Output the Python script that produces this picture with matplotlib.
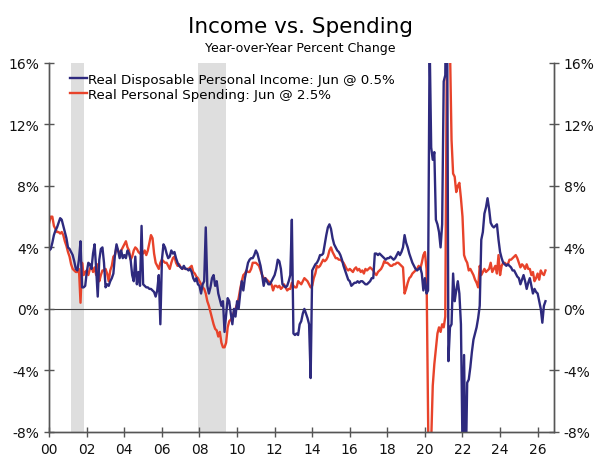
import numpy as np
import matplotlib
matplotlib.use("Agg")
import matplotlib.pyplot as plt

# monthly year-over-year % change, Jan 2000 .. Jun 2026
start_year = 2000
income_yoy = [
    3.8, 3.9, 4.3, 4.8, 5.1, 5.3, 5.6, 5.9, 5.8, 5.4, 5.0, 4.6,   # 2000
    4.0, 3.9, 3.7, 3.5, 3.1, 2.6, 2.5, 3.2, 4.4, 1.4, 1.4, 1.5,   # 2001
    2.4, 3.0, 2.9, 2.6, 3.6, 4.2, 2.6, 0.8, 3.2, 3.9, 4.0, 3.0,   # 2002
    1.4, 1.6, 1.5, 1.8, 2.0, 2.3, 3.5, 4.2, 3.8, 3.3, 3.8, 3.3,   # 2003
    3.5, 3.3, 3.8, 3.6, 3.2, 2.2, 1.8, 3.4, 1.6, 2.4, 1.5, 5.4,   # 2004
    1.6, 1.5, 1.4, 1.4, 1.3, 1.3, 1.2, 1.1, 0.8, 1.2, 2.2, -1.0,  # 2005
    3.2, 4.2, 4.0, 3.6, 3.3, 3.4, 3.8, 3.6, 3.7, 3.3, 3.0, 2.8,   # 2006
    2.7, 2.6, 2.8, 2.6, 2.6, 2.5, 2.6, 2.4, 2.0, 1.8, 2.0, 1.6,   # 2007
    1.5, 1.0, 1.6, 1.8, 5.3, 1.5, 1.0, 1.4, 2.0, 2.2, 1.5, 1.8,   # 2008
    1.0, 0.6, 0.2, 0.5, -1.5, -0.4, 0.7, 0.5, -0.3, -1.0, 0.0, -0.5,  # 2009
    0.5, 0.0, 1.0, 1.8, 1.2, 2.0, 2.5, 3.0, 3.2, 3.3, 3.3, 3.5,   # 2010
    3.8, 3.6, 3.2, 2.8, 2.2, 1.5, 2.0, 1.8, 1.6, 1.6, 1.8, 2.0,   # 2011
    2.2, 2.6, 3.2, 3.1, 2.6, 1.6, 1.5, 1.4, 1.5, 1.8, 2.2, 5.8,   # 2012
    -1.6, -1.7, -1.6, -1.7, -1.0, -0.8, -0.3, 0.0, -0.3, -0.6, -1.0, -4.5,  # 2013
    2.5, 2.7, 2.9, 3.0, 3.2, 3.5, 3.5, 3.6, 4.2, 4.8, 5.3, 5.5,   # 2014
    5.2, 4.6, 4.2, 4.0, 3.8, 3.7, 3.5, 3.2, 2.8, 2.5, 2.2, 1.9,   # 2015
    1.8, 1.5, 1.6, 1.7, 1.7, 1.8, 1.7, 1.8, 1.8, 1.7, 1.6, 1.6,   # 2016
    1.7, 1.8, 2.0, 2.0, 3.6, 3.6, 3.5, 3.6, 3.5, 3.4, 3.3, 3.2,   # 2017
    3.3, 3.3, 3.4, 3.3, 3.2, 3.3, 3.5, 3.7, 3.5, 3.7, 4.0, 4.8,   # 2018
    4.3, 4.0, 3.6, 3.3, 3.0, 2.8, 2.6, 2.5, 2.6, 2.7, 2.3, 1.2,   # 2019
    2.0, 1.0, 1.2, 17.5, 10.5, 9.7, 10.2, 5.8, 5.5, 5.0, 4.0, 5.5,  # 2020
    14.8, 15.2, 25.0, -3.4, -1.2, -1.0, 2.3, 0.5, 1.2, 1.8, 1.0, -1.0,  # 2021
    -9.0, -3.0, -11.0, -4.8, -4.6, -3.8, -2.8, -2.0, -1.6, -1.2, -0.6, 0.2,  # 2022
    4.5, 5.0, 6.2, 6.6, 7.2, 6.5, 5.6, 5.4, 5.3, 5.4, 5.5, 4.5,   # 2023
    3.7, 3.3, 3.0, 2.9, 2.8, 2.9, 2.8, 2.7, 2.5, 2.5, 2.3, 2.1,   # 2024
    2.0, 1.6, 1.9, 2.2, 1.8, 1.3, 1.7, 2.0, 1.5, 1.0, 1.3, 1.1,   # 2025
    1.0, 0.5, 0.0, -0.9, 0.2, 0.5,                                # 2026
]
spending_yoy = [
    5.6, 6.0, 6.0, 5.4, 5.2, 5.0, 5.0, 4.9, 5.0, 4.8, 4.4, 4.1,   # 2000
    3.7, 3.4, 2.9, 2.6, 2.5, 2.4, 2.4, 2.6, 0.4, 3.0, 2.2, 2.4,   # 2001
    2.5, 2.2, 2.6, 2.8, 2.4, 2.7, 2.2, 2.9, 1.8, 2.2, 2.5, 2.5,   # 2002
    2.6, 2.3, 1.8, 2.5, 2.8, 3.4, 3.5, 4.0, 3.8, 3.6, 3.8, 4.0,   # 2003
    4.2, 4.4, 4.0, 3.8, 3.2, 3.4, 3.8, 4.0, 3.9, 3.7, 3.6, 3.8,   # 2004
    3.6, 3.8, 3.5, 3.8, 4.3, 4.8, 4.6, 3.6, 3.0, 2.8, 2.6, 3.0,   # 2005
    3.2, 3.1, 3.0, 3.0, 2.8, 2.6, 3.0, 3.3, 3.4, 3.0, 2.8, 2.9,   # 2006
    2.7, 2.6, 2.7, 2.6, 2.6, 2.6, 2.7, 2.8, 2.4, 2.3, 2.1, 2.0,   # 2007
    1.8, 1.6, 1.4, 1.3, 1.0, 0.5, 0.2, -0.2, -0.6, -1.0, -1.3, -1.4,  # 2008
    -1.8, -1.5, -2.2, -2.5, -2.5, -2.2, -1.2, -0.8, -0.7, -0.5, -0.2, 0.0,  # 2009
    0.3, 0.7, 1.3, 1.8, 2.2, 2.3, 2.5, 2.4, 2.4, 2.6, 3.0, 3.0,   # 2010
    3.0, 2.9, 2.8, 2.5, 2.2, 2.0, 2.0, 1.9, 1.8, 1.7, 1.6, 1.2,   # 2011
    1.5, 1.5, 1.4, 1.5, 1.3, 1.4, 1.6, 1.4, 1.2, 1.3, 1.3, 1.7,   # 2012
    1.5, 1.4, 1.4, 1.8, 1.7, 1.6, 1.8, 2.0, 1.9, 1.8, 1.6, 1.4,   # 2013
    1.5, 2.0, 2.3, 2.8, 2.7, 2.8, 3.0, 3.2, 3.1, 3.2, 3.4, 3.8,   # 2014
    4.0, 3.7, 3.5, 3.3, 3.3, 3.2, 3.2, 3.1, 3.0, 2.8, 2.6, 2.5,   # 2015
    2.6, 2.5, 2.4, 2.6, 2.7, 2.5, 2.6, 2.4, 2.5, 2.3, 2.6, 2.5,   # 2016
    2.6, 2.7, 2.6, 2.5, 2.3, 2.2, 2.4, 2.5, 2.6, 2.8, 3.1, 3.0,   # 2017
    3.0, 2.9, 2.8, 2.8, 2.9, 2.9, 3.0, 3.0, 2.9, 2.8, 2.7, 1.0,   # 2018
    1.3, 1.7, 2.0, 2.1, 2.3, 2.4, 2.5, 2.6, 2.8, 2.6, 3.0, 3.5,   # 2019
    3.7, 2.6, -7.0, -16.0, -8.6, -5.0, -3.6, -2.6, -1.6, -1.2, -1.5, -1.0,  # 2020
    -1.2, -0.5, 17.0, 26.0, 17.0, 11.0, 8.8, 8.6, 7.6, 8.0, 8.2, 7.2,  # 2021
    6.0, 3.5, 3.2, 3.0, 2.5, 2.6, 2.4, 2.2, 1.9, 1.7, 1.4, 2.8,   # 2022
    2.2, 2.4, 2.6, 2.4, 2.5, 2.6, 3.0, 2.4, 2.6, 2.8, 2.3, 3.5,   # 2023
    2.2, 2.8, 3.0, 3.0, 2.9, 2.9, 3.2, 3.2, 3.3, 3.4, 3.5, 3.3,   # 2024
    3.0, 2.7, 2.9, 2.8, 2.6, 2.9, 2.6, 2.6, 2.2, 2.4, 1.8, 2.0,   # 2025
    2.3, 1.9, 2.5, 2.3, 2.2, 2.5,                                 # 2026
]
recessions = [(2001 + 2 / 12, 2001 + 10 / 12), (2007 + 11 / 12, 2009 + 5 / 12)]
income_label = "Real Disposable Personal Income: Jun @ 0.5%"
spending_label = "Real Personal Spending: Jun @ 2.5%"

navy = "#2E2A7E"
red = "#E8432B"
spine_col = "#555555"

t = start_year + np.arange(len(income_yoy)) / 12.0

fig = plt.figure(figsize=(6, 4.6), dpi=100)
ax = fig.add_axes([0.082, 0.059, 0.841, 0.802])

for a, b in recessions:
    ax.axvspan(a, b, color="#DEDEDE", lw=0, zorder=0)
ax.axhline(0, color="#444444", lw=0.8, zorder=1)

ax.plot(t, income_yoy, color=navy, lw=1.7, label=income_label, zorder=3)
ax.plot(t, spending_yoy, color=red, lw=1.7, label=spending_label, zorder=2)

ax.set_xlim(2000, 2026.86)
ax.set_ylim(-8, 16)
yt = np.arange(-8, 17, 4)
ax.set_yticks(yt)
ax.set_yticklabels([f"{v}%" for v in yt])
xt = np.arange(2000, 2027, 2)
ax.set_xticks(xt)
ax.set_xticklabels([f"{v % 100:02d}" for v in xt])

ax2 = ax.twinx()
ax2.set_ylim(ax.get_ylim())
ax2.set_yticks(yt)
ax2.set_yticklabels([f"{v}%" for v in yt])

for a in (ax, ax2):
    a.spines["top"].set_visible(False)
    for s in ("left", "right", "bottom"):
        a.spines[s].set_color(spine_col)
        a.spines[s].set_linewidth(1.0)
    a.tick_params(direction="inout", length=7, width=1.0, color=spine_col,
                  labelsize=10, labelcolor="#111111")
ax.tick_params(axis="x", pad=4)

leg = ax.legend(loc="upper left", bbox_to_anchor=(0.025, 0.995), frameon=False,
                fontsize=9.6, handlelength=1.3, handletextpad=0.1,
                labelspacing=0.15, borderaxespad=0.2)

fig.text(0.5, 0.942, "Income vs. Spending", ha="center", va="center", fontsize=15.5)
fig.text(0.5, 0.894, "Year-over-Year Percent Change", ha="center", va="center", fontsize=9)

fig.savefig("out.png", dpi=100)
plt.close(fig)
